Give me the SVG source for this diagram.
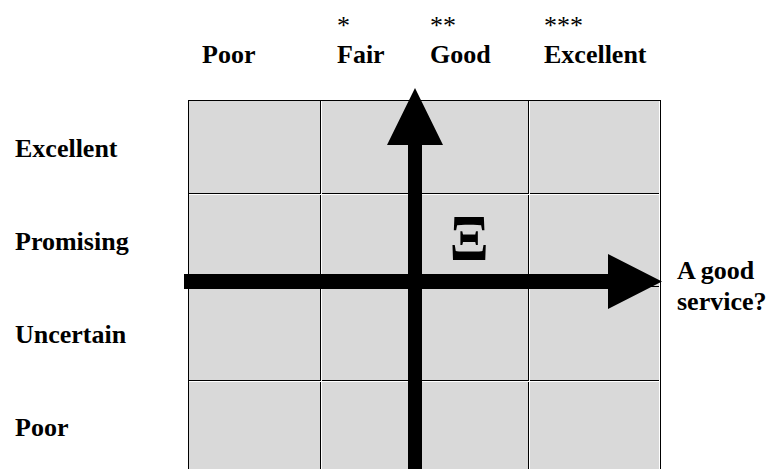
<svg xmlns="http://www.w3.org/2000/svg" width="767" height="469" viewBox="0 0 767 469">
<style>
.lbl{font-family:"Liberation Serif","DejaVu Serif",serif;font-weight:bold;font-size:26px;fill:#000}
.star{font-family:"Liberation Serif","DejaVu Serif",serif;font-size:26px;fill:#000}
.xi{font-family:"Liberation Serif","DejaVu Serif",serif;font-weight:bold;font-size:65px;fill:#000}
.cell{fill:#d9d9d9;stroke:#000;stroke-width:1}
.gap{stroke:#fff;stroke-width:1}
</style>
<rect width="767" height="469" fill="#fff"/>
<g id="grid">
<rect class="cell" x="188.5" y="100.5" width="472" height="380"/>
<g stroke="#000" stroke-width="1">
<line x1="320.5" y1="100" x2="320.5" y2="469"/>
<line x1="418.5" y1="100" x2="418.5" y2="469"/>
<line x1="528.5" y1="100" x2="528.5" y2="469"/>
<line x1="188" y1="193.5" x2="661" y2="193.5"/>
<line x1="188" y1="286.5" x2="661" y2="286.5"/>
<line x1="188" y1="380.5" x2="661" y2="380.5"/>
</g>
<g class="gap">
<line x1="321.5" y1="101" x2="321.5" y2="469"/>
<line x1="529.5" y1="101" x2="529.5" y2="469"/>
<line x1="659.5" y1="101" x2="659.5" y2="469"/>
<line x1="189" y1="194.5" x2="660" y2="194.5"/>
<line x1="189" y1="381.5" x2="660" y2="381.5"/>
</g>
</g>
<g id="connectors">
<polygon id="x-axis" points="184,274 608,274 608,254 662,281.5 608,309 608,289 184,289" fill="#000"/>
<polygon id="y-axis" points="408,469 408,145 387,145 415,88 443,145 422,145 422,469" fill="#000"/>
</g>
<g id="marker-xi">
<text class="xi" x="0" y="260" text-anchor="middle" transform="translate(469 0) scale(0.88 1)">Ξ</text>
</g>
<g id="col-poor"><text class="lbl" x="202" y="63">Poor</text></g>
<g id="col-fair"><text class="star" x="337" y="34">*</text><text class="lbl" x="337" y="63">Fair</text></g>
<g id="col-good"><text class="star" x="430" y="34">**</text><text class="lbl" x="430" y="63">Good</text></g>
<g id="col-excellent"><text class="star" x="544" y="34">***</text><text class="lbl" x="544" y="63">Excellent</text></g>
<g id="row-excellent"><text class="lbl" x="15" y="157">Excellent</text></g>
<g id="row-promising"><text class="lbl" x="15" y="250">Promising</text></g>
<g id="row-uncertain"><text class="lbl" x="15" y="343">Uncertain</text></g>
<g id="row-poor"><text class="lbl" x="15" y="436">Poor</text></g>
<g id="axis-label"><text class="lbl" x="677" y="279">A good</text><text class="lbl" x="677" y="310">service?</text></g>
</svg>
